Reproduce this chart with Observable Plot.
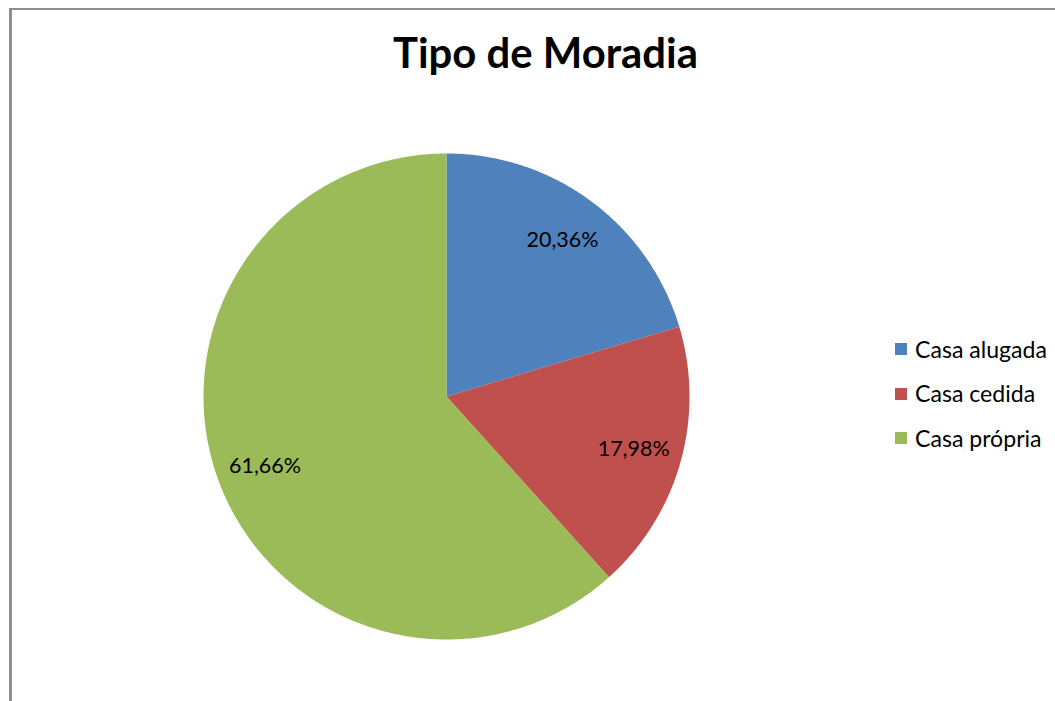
<!DOCTYPE html>
<html>
<head>
<meta charset="utf-8">
<script src="https://cdn.jsdelivr.net/npm/d3@7"></script>
<script src="https://cdn.jsdelivr.net/npm/@observablehq/plot@0.6"></script>
<style>
  html, body { margin: 0; padding: 0; background: #fff; overflow: hidden; }
  #wrap { position: relative; width: 1055px; height: 701px; overflow: hidden; font-family: Lato, "Open Sans", sans-serif; }
  #frame { position: absolute; left: 9px; top: 8px; width: 2000px; height: 2000px; border-left: 3px solid #8f8f8f; border-top: 2px solid #8f8f8f; box-sizing: border-box; }
  #chart { position: absolute; left: 0; top: 0; }
  #title { position: absolute; left: 0; width: 1091px; text-align: center; font-weight: bold; color: #000; white-space: nowrap; }
  .leg { position: absolute; left: 895px; display: flex; align-items: center; white-space: nowrap; color: #000; }
  .sw { width: 12px; height: 12px; margin-right: 8px; }
</style>
</head>
<body>
<div id="wrap">
  <div id="frame"></div>
  <div id="chart"></div>
  <div id="title">Tipo de Moradia</div>
</div>
<script>
const title = "Tipo de Moradia";
const categories = ["Casa alugada", "Casa cedida", "Casa própria"];
const values = [20.36, 17.98, 61.66];
const labels = ["20,36%", "17,98%", "61,66%"];
const colors = ["#4f81bd", "#c0504d", "#9bbb59"];

const FONT = "Lato";
function fitSize(text, weight, targetWidth) {
  const c = document.createElement("canvas").getContext("2d");
  c.font = `${weight} 100px ${FONT}`;
  const w = c.measureText(text).width;
  return 100 * targetWidth / w;
}
const titleSize = fitSize(title, "bold", 305);
const legendSize = fitSize(categories[0], "normal", 132);
const labelSize = fitSize(labels[0], "normal", 72);

// Build slice polygons from the data
const total = d3.sum(values);
const pts = [];
const labelData = [];
let cum = 0;
categories.forEach((cat, i) => {
  const a0 = cum / total * 2 * Math.PI;
  cum += values[i];
  const a1 = cum / total * 2 * Math.PI;
  const n = Math.max(2, Math.ceil((a1 - a0) / (Math.PI / 360)));
  pts.push({cat, x: 0, y: 0});
  for (let k = 0; k <= n; k++) {
    const a = a0 + (a1 - a0) * k / n;
    pts.push({cat, x: Math.sin(a), y: Math.cos(a)});
  }
  pts.push({cat, x: 0, y: 0});
  const am = (a0 + a1) / 2;
  labelData.push({cat, text: labels[i], x: 0.8 * Math.sin(am), y: 0.8 * Math.cos(am)});
});

const cx = 446, cy = 396, r = 243;
const chart = Plot.plot({
  width: 1055,
  height: 701,
  margin: 0,
  style: {background: "transparent", fontFamily: FONT},
  x: {domain: [-1, 1], range: [cx - r, cx + r], axis: null},
  y: {domain: [-1, 1], range: [cy + r, cy - r], axis: null},
  color: {domain: categories, range: colors},
  marks: [
    Plot.line(pts, {x: "x", y: "y", z: "cat", fill: "cat", stroke: "none", curve: "linear"}),
    Plot.text(labelData, {x: "x", y: "y", text: "text", fill: "#000", fontSize: labelSize, fontFamily: FONT})
  ]
});
document.getElementById("chart").appendChild(chart);

const t = document.getElementById("title");
t.style.fontSize = titleSize + "px";
t.style.lineHeight = titleSize + "px";
t.style.top = (69 - 0.88 * titleSize) + "px";

const wrap = document.getElementById("wrap");
categories.forEach((cat, i) => {
  const row = document.createElement("div");
  row.className = "leg";
  const baseline = 358 + i * 44.5;
  row.style.top = (baseline - 0.88 * legendSize) + "px";
  row.style.height = legendSize + "px";
  row.style.lineHeight = legendSize + "px";
  row.style.fontSize = legendSize + "px";
  const sw = document.createElement("div");
  sw.className = "sw";
  sw.style.background = colors[i];
  const lab = document.createElement("span");
  lab.textContent = cat;
  row.appendChild(sw);
  row.appendChild(lab);
  wrap.appendChild(row);
});
</script>
</body>
</html>
